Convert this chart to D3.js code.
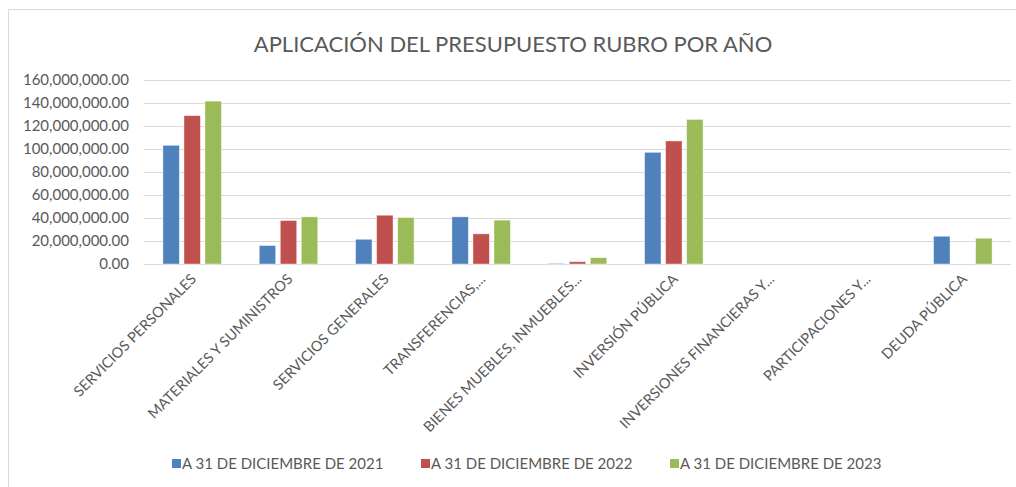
<!DOCTYPE html>
<html>
<head>
<meta charset="utf-8">
<script src="https://cdn.jsdelivr.net/npm/d3@7"></script>
<style>
  body { margin: 0; background: #fff; }
  text { font-family: Lato, "Open Sans", sans-serif; fill: #595959; }
</style>
</head>
<body>
<svg width="1016" height="487"></svg>
<script>
// rubros del presupuesto
const categories = [
  "SERVICIOS PERSONALES",
  "MATERIALES Y SUMINISTROS",
  "SERVICIOS GENERALES",
  "TRANSFERENCIAS,...",
  "BIENES MUEBLES, INMUEBLES...",
  "INVERSIÓN PÚBLICA",
  "INVERSIONES FINANCIERAS Y...",
  "PARTICIPACIONES Y...",
  "DEUDA PÚBLICA"
];
const seriesNames = [
  "A 31 DE DICIEMBRE DE 2021",
  "A 31 DE DICIEMBRE DE 2022",
  "A 31 DE DICIEMBRE DE 2023"
];
const values2021 = [103200000, 16000000, 21500000, 41000000, 500000, 97100000, 0, 0, 24100000];
const values2022 = [129000000, 37800000, 42400000, 26200000, 2000000, 107000000, 0, 0, 0];
const values2023 = [141600000, 41000000, 40400000, 38100000, 5500000, 125700000, 0, 0, 22400000];
const yTicks = [0, 20000000, 40000000, 60000000, 80000000, 100000000, 120000000, 140000000, 160000000];
const colors = ["#4f81bd", "#c0504d", "#9bbb59"];

const svg = d3.select("svg");

// borde del grafico
svg.append("rect")
  .attr("x", 8.5).attr("y", 9.5)
  .attr("width", 1100).attr("height", 600)
  .attr("fill", "none")
  .attr("stroke", "#d9d9d9");

const plotLeft = 144, plotRight = 1011, plotTop = 80, plotBottom = 264;

const x = d3.scaleBand().domain(categories).range([plotLeft, plotRight]);
const xs = d3.scaleBand().domain(d3.range(3)).range([0, x.bandwidth()]).paddingInner(0.22).paddingOuter(0.9);
const y = d3.scaleLinear().domain([0, 160000000]).range([plotBottom, plotTop]);

// gridlines
svg.append("g")
  .selectAll("line")
  .data(yTicks)
  .enter()
  .append("line")
  .attr("x1", plotLeft).attr("x2", plotRight)
  .attr("y1", d => Math.round(y(d)) + 0.5)
  .attr("y2", d => Math.round(y(d)) + 0.5)
  .attr("stroke", "#d9d9d9")
  .attr("stroke-width", 1);

// y labels
const fmt = d3.format(",.2f");
svg.append("g")
  .selectAll("text")
  .data(yTicks)
  .enter()
  .append("text")
  .attr("x", 129)
  .attr("y", d => y(d) + 5)
  .attr("text-anchor", "end")
  .style("font-size", "15px")
  .text(d => fmt(d));

// bars
const table = categories.map((c, i) => ({ cat: c, vals: [values2021[i], values2022[i], values2023[i]] }));
const groups = svg.append("g")
  .selectAll("g")
  .data(table)
  .enter()
  .append("g")
  .attr("transform", d => "translate(" + x(d.cat) + ",0)");

groups.selectAll("rect")
  .data(d => d.vals)
  .enter()
  .append("rect")
  .attr("x", (d, i) => xs(i))
  .attr("width", xs.bandwidth())
  .attr("y", d => y(d))
  .attr("height", d => plotBottom - y(d))
  .attr("fill", (d, i) => colors[i])
  .attr("stroke", "#fff")
  .attr("stroke-opacity", d => d > 0 ? 0.5 : 0)
  .attr("stroke-width", 0.8);

// x labels, rotated
svg.append("g")
  .selectAll("text")
  .data(categories)
  .enter()
  .append("text")
  .attr("transform", d => "translate(" + (x(d) + x.bandwidth() / 2 + 5) + ",280) rotate(-45)")
  .attr("text-anchor", "end")
  .style("font-size", "14.5px")
  .text(d => d);

// title
svg.append("text")
  .attr("x", 513)
  .attr("y", 52)
  .attr("text-anchor", "middle")
  .style("font-size", "22px")
  .text("APLICACIÓN DEL PRESUPUESTO RUBRO POR AÑO");

// legend
const legendX = [172, 421, 670];
const legend = svg.append("g")
  .selectAll("g")
  .data(seriesNames)
  .enter()
  .append("g")
  .attr("transform", (d, i) => "translate(" + legendX[i] + ",459)");

legend.append("rect")
  .attr("width", 9).attr("height", 9)
  .attr("fill", (d, i) => colors[i]);

legend.append("text")
  .attr("x", 10)
  .attr("y", 10)
  .style("font-size", "15px")
  .text(d => d);
</script>
</body>
</html>
